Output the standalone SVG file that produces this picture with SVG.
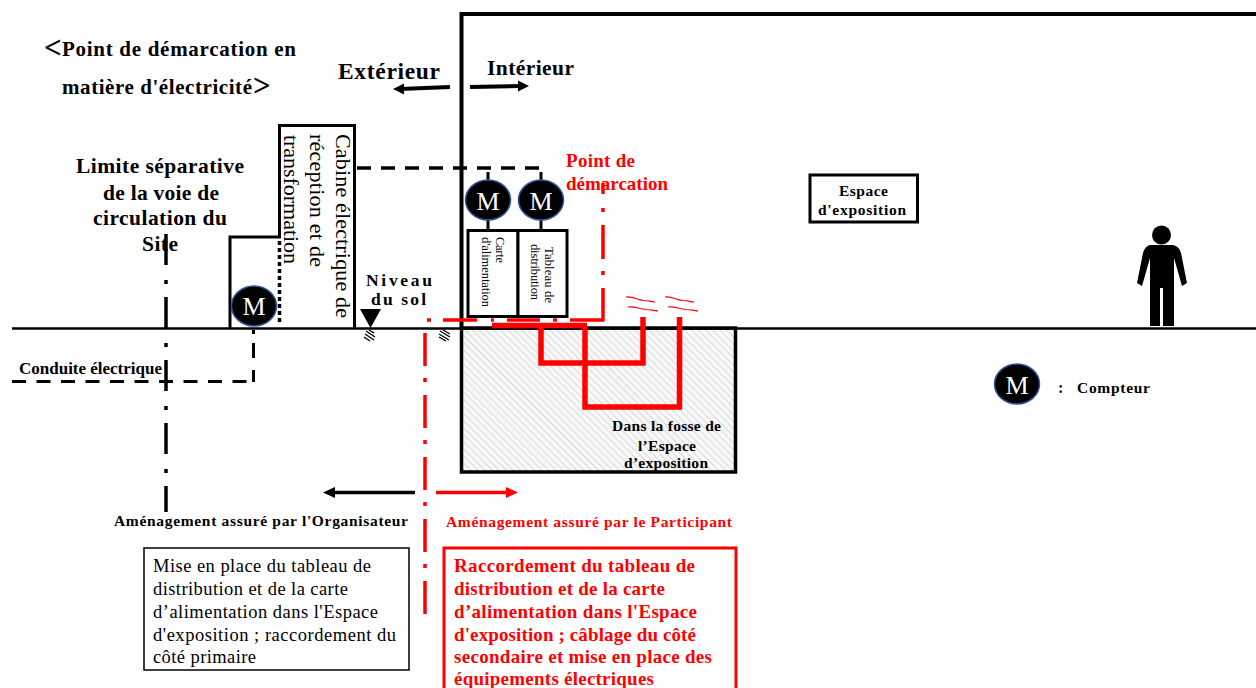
<svg xmlns="http://www.w3.org/2000/svg" width="1256" height="688" viewBox="0 0 1256 688">
<style>
text{font-family:"Liberation Serif","Times New Roman",serif;fill:#000}
.b{font-weight:bold}
.r{fill:#f00}
.m{fill:#fff;font-size:26px;text-anchor:middle}
.mc{fill:#000;stroke:#2f5597;stroke-width:1.5}
.k{fill:none;stroke:#000}
.rl{fill:none;stroke:#f00}
</style>
<defs>
<pattern id="h" width="5" height="5" patternUnits="userSpaceOnUse" patternTransform="rotate(-45)"><rect width="5" height="5" fill="#f8f8f8"/><line x1="0" y1="0" x2="0" y2="5" stroke="#d8d8d8" stroke-width="2"/></pattern>
</defs>
<g id="pit"><rect x="461.500" y="328" width="274" height="144" fill="url(#h)" stroke="#000" stroke-width="3.500"/></g>
<g id="building"><path class="k" stroke-width="4" d="M461.500 328V14H1256"/></g>
<g id="cabin"><path class="k" stroke-width="3" d="M230 328V237H279.500V125.500H354.500V328"/>
<text transform="translate(336,134) rotate(90)" font-size="22" textLength="184">Cabine électrique de</text>
<text transform="translate(310,134) rotate(90)" font-size="22" textLength="133">réception et de</text>
<text transform="translate(284,135) rotate(90)" font-size="22" textLength="129">transformation</text></g>
<g id="connectors">
<path class="k" stroke-width="2.500" d="M12 328.500H1256"/>
<path class="k" stroke-width="3.500" stroke-dasharray="4 3" d="M279.500 241V324"/>
<path class="k" stroke-width="3.500" stroke-dasharray="14 10" d="M357 168H541"/>
<path class="k" stroke-width="3" d="M488 172V180M541 172V180M488 220V230M541 220V230"/>
<path class="k" stroke-width="3" stroke-dasharray="14 10.500" d="M12 381.500H248"/>
<path class="k" stroke-width="3" d="M253.500 330V334M253.500 343V358M253.500 370V382"/>
<path class="k" stroke-width="3.500" stroke-dasharray="31 15 4 13" d="M166 234V512"/>
<path class="k" stroke-width="4" d="M400 89L450 87M470 87L520 86"/>
<path d="M393 89l11-5.500v11zM529 86l-11-5.500v11z"/>
<path class="k" stroke-width="3.500" d="M415 492.500H332"/>
<path d="M323 492.500l12-5.500v11z"/>
<path class="rl" stroke-width="3.500" stroke-dasharray="33 12 4 13" d="M425 333V620"/>
<path class="rl" stroke-width="3.500" d="M436 492.500H508"/>
<path d="M518 492.500l-12-5.500v11z" fill="#f00"/>
<path class="rl" stroke-width="3.500" d="M603 183V194M603 208V212M603 225V259M603 271V275M603 288V321.500"/>
<path class="rl" stroke-width="3.500" d="M427 320H431M443 320H477M491 320H494M507 320H540M553 320H557M570 320H603"/>
<path class="rl" stroke-width="5.500" d="M492 325.500H587M585 325.500V407H679.500V317M541 325.500V363H643V317"/>
<path class="rl" stroke-width="1.200" d="M626 297c8-1 10 3 18 3.500 4 0 7 1 11 1.500M628 307c8-1 10 2 18 2.500 4 0 8 1 12 1.500M665 297c8-1 10 3 18 3.500 4 0 7 1 11 1.500M668 307c8-1 10 2 18 2.500 4 0 8 1 12 1.500"/>
</g>
<g id="level"><path d="M360 309H381L370.500 328z"/><path class="k" stroke-width="1.300" d="M369 330l5 3-1-1M366 331l9 6M365 334l9 6M364 337l6 4M443 330l7 4M440 331l10 6M439 334l10 6M439 337l7 4"/>
<text class="b" x="366" y="286" font-size="17.500" textLength="66">Niveau</text><text class="b" x="371" y="305" font-size="17.500" textLength="55">du sol</text></g>
<g id="meter1"><ellipse class="mc" cx="254" cy="306" rx="22.500" ry="20"/><text class="m" x="254" y="315">M</text></g>
<g id="meter2"><ellipse class="mc" cx="488" cy="200" rx="22.500" ry="20"/><text class="m" x="488" y="210">M</text></g>
<g id="meter3"><ellipse class="mc" cx="541" cy="200" rx="22.500" ry="20"/><text class="m" x="541" y="210">M</text></g>
<g id="meter-legend"><ellipse class="mc" cx="1017" cy="384" rx="22.500" ry="20"/><text class="m" x="1017" y="394">M</text>
<text class="b" x="1058" y="393" font-size="16">:</text><text class="b" x="1077" y="393" font-size="15.500" textLength="73">Compteur</text></g>
<g id="boards"><rect x="468" y="230.500" width="50" height="86" fill="#fff" stroke="#000" stroke-width="3"/><rect x="518" y="230.500" width="49" height="86" fill="#fff" stroke="#000" stroke-width="3"/>
<text transform="translate(496,237) rotate(90)" font-size="12.500" textLength="26">Carte</text><text transform="translate(482,237) rotate(90)" font-size="12.500" textLength="70">d'alimentation</text>
<text transform="translate(545,247) rotate(90)" font-size="12.500" textLength="56">Tableau de</text><text transform="translate(531,244) rotate(90)" font-size="12.500" textLength="56">distribution</text></g>
<g id="expo"><rect x="810" y="175" width="107.500" height="47" fill="#fff" stroke="#000" stroke-width="3"/>
<text class="b" x="839" y="196" font-size="15.500" textLength="49">Espace</text><text class="b" x="818" y="215" font-size="15.500" textLength="88">d'exposition</text></g>
<g id="person" fill="#000"><circle cx="1161.500" cy="235" r="9.500"/><path d="M1150 245H1173Q1179 246 1181 253L1187 283L1182 286L1174 258V326H1163V288H1160V326H1150V258L1142 286L1137 283L1143 253Q1145 246 1150 245z"/></g>
<g id="labels">
<text class="b" x="44" y="58" font-size="31">&lt;</text>
<text class="b" x="62" y="56" font-size="21" textLength="234">Point de démarcation en</text>
<text class="b" x="62" y="94" font-size="21" textLength="190">matière d'électricité</text>
<text class="b" x="253" y="96" font-size="31">&gt;</text>
<text class="b" x="338" y="79" font-size="23.500" textLength="102">Extérieur</text>
<text class="b" x="487" y="75" font-size="21.500" textLength="87">Intérieur</text>
<text class="b" x="76" y="173" font-size="21.500" textLength="168">Limite séparative</text>
<text class="b" x="103" y="200" font-size="21.500" textLength="116">de la voie de</text>
<text class="b" x="93" y="225" font-size="21.500" textLength="134">circulation du</text>
<text class="b" x="142" y="251" font-size="21.500" textLength="36">Site</text>
<text class="b" x="19" y="374" font-size="17" textLength="143">Conduite électrique</text>
<text class="b r" x="566" y="167" font-size="19" textLength="69">Point de</text>
<text class="b r" x="566" y="190" font-size="19" textLength="102">démarcation</text>
<text class="b" x="612" y="431" font-size="15.500" textLength="109">Dans la fosse de</text>
<text class="b" x="638" y="451" font-size="15.500" textLength="58">l’Espace</text>
<text class="b" x="624" y="468" font-size="15.500" textLength="84">d’exposition</text>
<text class="b" x="114" y="526" font-size="15.500" textLength="294">Aménagement assuré par l'Organisateur</text>
<text class="b r" x="446" y="527" font-size="15.500" textLength="286">Aménagement assuré par le Participant</text>
</g>
<g id="box-organizer"><rect x="144" y="548" width="265" height="122" fill="#fff" stroke="#000" stroke-width="1.500"/>
<text x="153" y="572" font-size="18.500" textLength="218">Mise en place du tableau de</text>
<text x="153" y="595" font-size="18.500" textLength="195">distribution et de la carte</text>
<text x="153" y="618" font-size="18.500" textLength="225">d’alimentation dans l'Espace</text>
<text x="153" y="641" font-size="18.500" textLength="243">d'exposition ; raccordement du</text>
<text x="153" y="663" font-size="18.500" textLength="103">côté primaire</text></g>
<g id="box-participant"><rect x="444" y="548" width="292" height="150" fill="#fff" stroke="#f00" stroke-width="3"/>
<text class="b r" x="454" y="572" font-size="19" textLength="241">Raccordement du tableau de</text>
<text class="b r" x="454" y="595" font-size="19" textLength="211">distribution et de la carte</text>
<text class="b r" x="454" y="618" font-size="19" textLength="243">d’alimentation dans l'Espace</text>
<text class="b r" x="454" y="641" font-size="19" textLength="242">d'exposition ; câblage du côté</text>
<text class="b r" x="454" y="663" font-size="19" textLength="258">secondaire et mise en place des</text>
<text class="b r" x="454" y="685" font-size="19" textLength="200">équipements électriques</text></g>
</svg>
